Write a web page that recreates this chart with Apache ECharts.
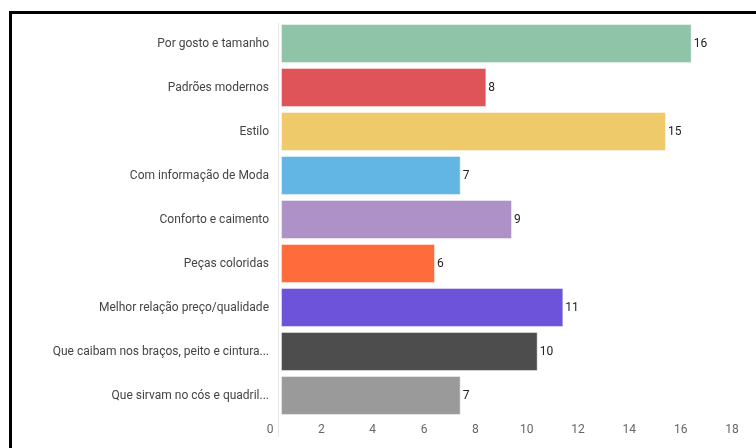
<!DOCTYPE html>
<html>
<head>
<meta charset="utf-8">
<script src="https://cdn.jsdelivr.net/npm/echarts@6/dist/echarts.min.js"></script>
<style>
  html, body { margin: 0; padding: 0; background: #fff; }
  #chart { width: 756px; height: 448px; }
</style>
</head>
<body>
<div id="chart"></div>
<script>
// Motivos de escolha (respostas por opção)
const categories = [
  'Por gosto e tamanho',
  'Padrões modernos',
  'Estilo',
  'Com informação de Moda',
  'Conforto e caimento',
  'Peças coloridas',
  'Melhor relação preço/qualidade',
  'Que caibam nos braços, peito e cintura...',
  'Que sirvam no cós e quadril...'
];
const values = [16, 8, 15, 7, 9, 6, 11, 10, 7];
const barColors = [
  '#8fc4a8', '#de5458', '#efca6a', '#61b6e4', '#ad91c7',
  '#ff6b3b', '#6d53da', '#4d4d4d', '#9a9a9a'
];
const xTicks = { min: 0, max: 18, interval: 2 };

const chart = echarts.init(document.getElementById('chart'));

const option = {
  animation: false,
  backgroundColor: '#fff',
  textStyle: { fontFamily: 'Roboto' },
  grid: { left: 281, right: 13, top: 21.5, bottom: 30.5, containLabel: false },
  xAxis: {
    type: 'value',
    min: xTicks.min,
    max: xTicks.max,
    interval: xTicks.interval,
    axisLine: { show: false },
    axisTick: { show: false },
    splitLine: { show: false },
    axisLabel: {
      color: '#666',
      fontSize: 12,
      fontFamily: 'Roboto',
      margin: 6,
      padding: [0, 22, 0, 0]
    }
  },
  yAxis: {
    type: 'category',
    data: categories,
    inverse: true,
    axisLine: { show: false },
    axisTick: { show: false },
    axisLabel: {
      color: '#444',
      fontSize: 12,
      fontFamily: 'Roboto',
      margin: 12
    }
  },
  series: [{
    type: 'bar',
    data: values.map((v, i) => ({
      value: v,
      itemStyle: { color: barColors[i] }
    })),
    barCategoryGap: '11.5%',
    itemStyle: { borderColor: 'rgba(255,255,255,0.45)', borderWidth: 1 },
    label: {
      show: true,
      position: 'right',
      distance: 2,
      color: '#222',
      fontSize: 12,
      fontFamily: 'Roboto'
    }
  }]
};

chart.setOption(option);

// Thin baseline left of the bars, and the dark frame along top/left edges
const x0 = chart.convertToPixel({ xAxisIndex: 0 }, 0) - 3;
chart.setOption({
  graphic: [
    {
      type: 'line',
      silent: true,
      shape: { x1: x0 + 0.5, y1: 23, x2: x0 + 0.5, y2: 437 },
      style: { stroke: '#e6e6e6', lineWidth: 1 }
    },
    {
      type: 'polyline',
      silent: true,
      shape: { points: [[10.5, 448], [10.5, 12.5], [756, 12.5]] },
      style: { stroke: '#000', lineWidth: 3, fill: null }
    }
  ]
});
</script>
</body>
</html>
